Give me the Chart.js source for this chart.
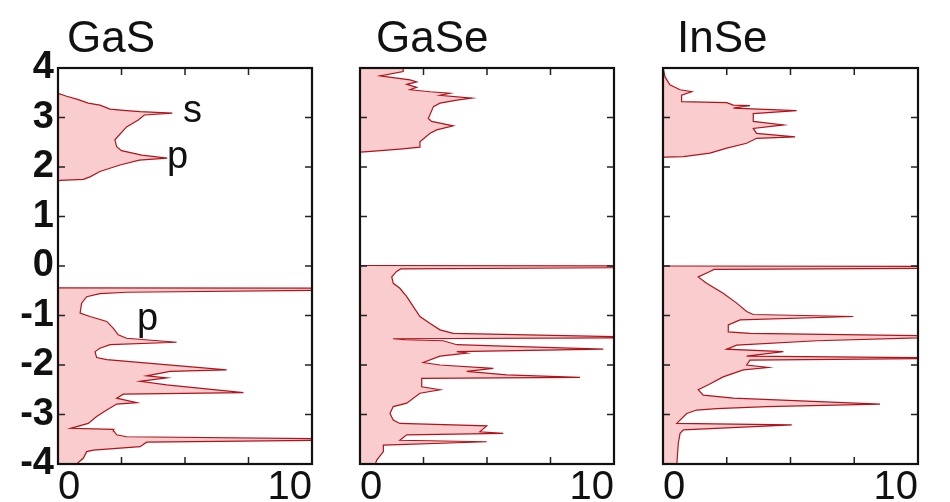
<!DOCTYPE html>
<html>
<head>
<meta charset="utf-8">
<script src="https://cdn.jsdelivr.net/npm/chart.js@4.4.1/dist/chart.umd.min.js"></script>
<style>
  body { margin: 0; background: #fff; }
  #wrap { position: relative; width: 950px; height: 502px; }
  #wrap canvas { position: absolute; left: 0; top: 0; }
</style>
</head>
<body>
<div id="wrap">
  <canvas id="gasChart" width="950" height="502"></canvas>
  <canvas id="gaseChart" width="950" height="502"></canvas>
  <canvas id="inseChart" width="950" height="502"></canvas>
</div>
<script>
// axis ticks
const energyTicks = [-4, -3, -2, -1, 0, 1, 2, 3, 4];
const dosTicks = [0, 2.5, 5, 7.5, 10];
const dosTickLabels = ['0', '', '', '', '10'];

// GaS - conduction band
const gasCbEnergy = [3.49, 3.43, 3.37, 3.29, 3.25, 3.17, 3.14, 3.12, 3.09, 3.05, 2.95, 2.81, 2.55, 2.41, 2.33, 2.24, 2.18, 2.14, 2.04, 1.91, 1.80, 1.75, 1.73, 1.72];
const gasCbDos    = [0,    0.34, 0.74, 1.19, 1.65, 2.05, 2.70, 3.23, 4.50, 3.40, 3.16, 2.70, 2.24, 2.31, 2.50, 3.30, 4.30, 3.20, 2.44, 1.65, 1.26, 1.00, 0.08, 0];
// GaS - valence band
const gasVbEnergy = [-0.44, -0.45, -0.48, -0.53, -0.56, -0.62, -0.75, -0.95, -1.02, -1.12, -1.26, -1.39, -1.46, -1.54, -1.59, -1.66, -1.73, -1.85, -1.89, -2.10, -2.13, -2.22, -2.26, -2.33, -2.40, -2.56, -2.59, -2.67, -2.76, -2.79, -2.91, -3.04, -3.18, -3.28, -3.30, -3.32, -3.41, -3.45, -3.50, -3.51, -3.56, -3.65, -3.72, -3.75, -3.88, -3.97, -4.02];
const gasVbDos    = [0,     12,    12,    2.70,  1.65,  1.13,  0.93,  0.87,  1.26,  1.92,  2.18,  2.37,  2.70,  4.67,  2.05,  1.65,  1.46,  1.52,  1.92,  6.64,  4.41,  3.49,  4.28,  3.23,  4.28,  7.30,  2.57,  2.31,  3.10,  2.31,  1.92,  1.52,  1.19,  0.50,  2.20,  2.18,  2.31,  2.70,  12,    12,    3.49,  3.23,  1.39,  1.13,  1.00,  0.80,  0.70];

// GaSe - conduction band
const gaseCbEnergy = [4.02, 3.93, 3.84, 3.76, 3.72, 3.67, 3.61, 3.56, 3.52, 3.49, 3.45, 3.39, 3.35, 3.29, 3.22, 2.98, 2.92, 2.83, 2.75, 2.68, 2.51, 2.40, 2.36, 2.31, 2.30];
const gaseCbDos    = [1.70, 1.70, 0.79, 1.97, 2.23, 1.84, 2.23, 1.97, 2.76, 3.54, 3.15, 4.40, 3.81, 3.15, 2.89, 2.69, 2.82, 3.67, 3.02, 2.76, 2.36, 2.36, 1.57, 0.30, 0];
// GaSe - valence band
const gaseVbEnergy = [0.01, 0.00, -0.03, -0.06, -0.11, -0.22, -0.35, -0.45, -0.62, -0.82, -1.02, -1.16, -1.29, -1.36, -1.45, -1.47, -1.49, -1.51, -1.59, -1.62, -1.68, -1.73, -1.76, -1.82, -1.95, -2.00, -2.07, -2.13, -2.20, -2.25, -2.27, -2.44, -2.50, -2.57, -2.77, -2.84, -2.98, -3.11, -3.18, -3.23, -3.35, -3.38, -3.41, -3.52, -3.55, -3.62, -3.75, -3.92, -4.02];
const gaseVbDos    = [0,    12,   12,    1.60,  1.44,  1.25,  1.31,  1.57,  1.84,  2.10,  2.36,  2.76,  3.15,  3.67,  12,    1.30,  1.77,  3.28,  3.81,  5.64,  9.58,  3.81,  4.20,  3.15,  2.49,  3.15,  5.25,  4.20,  5.77,  8.66,  2.43,  2.43,  3.15,  2.36,  1.84,  1.31,  1.18,  1.31,  1.57,  4.99,  4.72,  5.64,  1.84,  1.57,  4.99,  0.92,  0.92,  0.66,  0.59];

// InSe - conduction band
const inseCbEnergy = [4.02, 3.82, 3.66, 3.56, 3.52, 3.45, 3.32, 3.30, 3.25, 3.24, 3.19, 3.14, 3.08, 2.92, 2.85, 2.78, 2.68, 2.61, 2.58, 2.48, 2.38, 2.28, 2.21, 2.20, 2.19];
const inseCbDos    = [0,    0.08, 0.27, 0.67, 1.13, 0.73, 0.73, 2.50, 2.76, 3.41, 2.76, 5.24, 3.54, 3.54, 4.72, 3.54, 3.67, 5.18, 3.67, 3.28, 2.50, 1.84, 0.80, 0.08, 0];
// InSe - valence band
const inseVbEnergy = [0.00, -0.01, -0.04, -0.07, -0.11, -0.22, -0.35, -0.55, -0.75, -0.92, -0.98, -1.02, -1.09, -1.19, -1.33, -1.36, -1.42, -1.51, -1.60, -1.68, -1.73, -1.82, -1.86, -1.90, -2.00, -2.05, -2.10, -2.24, -2.40, -2.50, -2.61, -2.67, -2.79, -2.84, -2.88, -2.91, -2.98, -3.18, -3.21, -3.31, -3.38, -3.58, -4.02];
const inseVbDos    = [0,    12,    12,    2.00,  1.84,  1.38,  1.71,  2.36,  2.89,  3.28,  3.54,  7.46,  3.02,  2.56,  2.56,  3.41,  12,    6.03,  2.89,  2.50,  4.72,  3.28,  12,    3.41,  3.28,  4.13,  3.15,  2.36,  1.78,  1.38,  1.58,  2.76,  8.51,  4.07,  2.11,  1.32,  0.93,  0.54,  5.05,  0.80,  0.67,  0.60,  0.54];

// orbital labels on the GaS panel
const gasNotes = ['s', 'p', 'p'];
const gasNoteDos = [4.92, 4.29, 3.11];
const gasNoteEnergy = [2.91, 1.98, -1.29];

const FONT = '"Liberation Sans", Arial, sans-serif';

// draws frame, inward ticks, panel title and notes
const panelDecor = {
    id: 'panelDecor',
    afterDatasetsDraw(chart, args, opts) {
        const ctx = chart.ctx;
        const a = chart.chartArea;
        const x = chart.scales.x;
        const y = chart.scales.y;
        ctx.save();
        ctx.strokeStyle = '#222';
        ctx.lineWidth = 1.5;
        ctx.beginPath();
        energyTicks.forEach(v => {
            const py = y.getPixelForValue(v);
            ctx.moveTo(a.left, py); ctx.lineTo(a.left + 7, py);
            ctx.moveTo(a.right - 7, py); ctx.lineTo(a.right, py);
        });
        dosTicks.slice(1, -1).forEach(v => {
            const px = x.getPixelForValue(v);
            ctx.moveTo(px, a.bottom); ctx.lineTo(px, a.bottom - 7);
            ctx.moveTo(px, a.top); ctx.lineTo(px, a.top + 7);
        });
        ctx.stroke();

        ctx.lineWidth = 2.2;
        ctx.strokeStyle = '#111';
        ctx.strokeRect(a.left, a.top, a.right - a.left, a.bottom - a.top);

        ctx.fillStyle = '#111';
        ctx.textBaseline = 'alphabetic';
        ctx.textAlign = 'left';
        ctx.font = '44px ' + FONT;
        ctx.fillText(opts.title, a.left + opts.titleDx, 52);

        ctx.font = '38px ' + FONT;
        (opts.notes || []).forEach((t, i) => {
            ctx.fillText(t, x.getPixelForValue(opts.noteDos[i]), y.getPixelForValue(opts.noteEnergy[i]));
        });
        ctx.restore();
    }
};

function toPoints(energy, dos) {
    return energy.map((e, i) => ({x: dos[i], y: e}));
}

function bandDataset(energy, dos) {
    return {
        data: toPoints(energy, dos),
        borderColor: '#b3121b',
        borderWidth: 1.2,
        backgroundColor: '#f9cdcd',
        fill: 'origin',
        pointRadius: 0,
        tension: 0
    };
}

function renderPanel(id, opts) {
    var ctx = document.getElementById(id).getContext('2d');
    return new Chart(ctx, {
        type: 'line',
        data: {
            datasets: [
                bandDataset(opts.cbE, opts.cbDos),
                bandDataset(opts.vbE, opts.vbDos)
            ]
        },
        options: {
            responsive: false,
            animation: false,
            indexAxis: 'y',
            layout: {
                padding: {left: opts.showY ? 0 : opts.left, right: 950 - opts.right, top: 68, bottom: 2}
            },
            scales: {
                x: {
                    type: 'linear',
                    min: 0,
                    max: 10,
                    afterBuildTicks: (scale) => { scale.ticks = dosTicks.map(v => ({value: v})); },
                    afterFit: (scale) => { scale.height = 36; },
                    grid: {display: false, drawTicks: false},
                    border: {display: false},
                    ticks: {
                        autoSkip: false,
                        maxRotation: 0,
                        align: 'inner',
                        padding: 0,
                        color: '#111',
                        font: {family: FONT, size: 40},
                        callback: (v) => dosTickLabels[dosTicks.indexOf(v)]
                    }
                },
                y: {
                    type: 'linear',
                    min: -4,
                    max: 4,
                    afterBuildTicks: (scale) => { scale.ticks = energyTicks.map(v => ({value: v})); },
                    afterFit: (scale) => { scale.width = opts.showY ? opts.left : 0; },
                    grid: {display: false, drawTicks: false},
                    border: {display: false},
                    ticks: {
                        display: opts.showY,
                        padding: 4,
                        color: '#111',
                        font: {family: FONT, size: 38, weight: 'bold'}
                    }
                }
            },
            plugins: {
                legend: {display: false},
                tooltip: {enabled: false},
                panelDecor: {
                    title: opts.title,
                    titleDx: opts.titleDx,
                    notes: opts.notes,
                    noteDos: opts.noteDos,
                    noteEnergy: opts.noteEnergy
                }
            }
        },
        plugins: [panelDecor]
    });
}

renderPanel('gasChart', {
    title: 'GaS', titleDx: 9, left: 58, right: 312, showY: true,
    cbE: gasCbEnergy, cbDos: gasCbDos, vbE: gasVbEnergy, vbDos: gasVbDos,
    notes: gasNotes, noteDos: gasNoteDos, noteEnergy: gasNoteEnergy
});

renderPanel('gaseChart', {
    title: 'GaSe', titleDx: 16, left: 360, right: 614, showY: false,
    cbE: gaseCbEnergy, cbDos: gaseCbDos, vbE: gaseVbEnergy, vbDos: gaseVbDos
});

renderPanel('inseChart', {
    title: 'InSe', titleDx: 14, left: 663, right: 918, showY: false,
    cbE: inseCbEnergy, cbDos: inseCbDos, vbE: inseVbEnergy, vbDos: inseVbDos
});
</script>
</body>
</html>
